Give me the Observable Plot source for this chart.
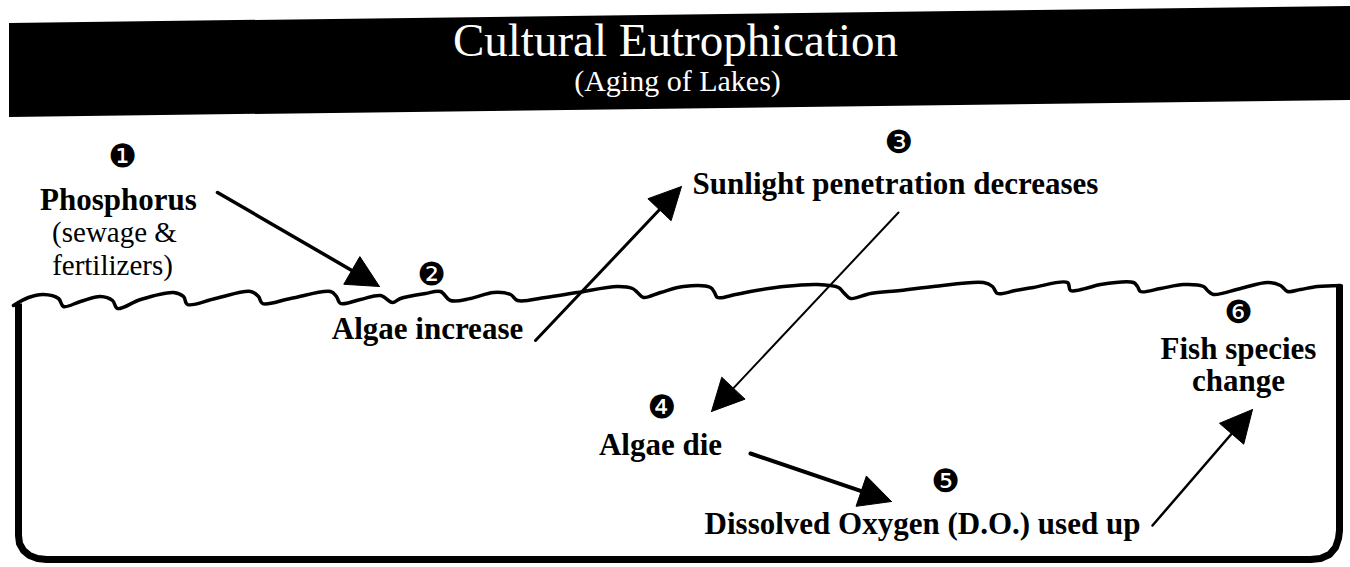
<!DOCTYPE html>
<html><head><meta charset="utf-8">
<script src="https://cdn.jsdelivr.net/npm/d3@7"></script>
<script src="https://cdn.jsdelivr.net/npm/@observablehq/plot@0.6"></script>
<style>body{margin:0;background:#fff}</style>
</head><body><div id="chart"></div>
<script>
// ---- data (coordinates in a 1350 x 567 frame) ----
const titleText = "Cultural Eutrophication";
const subtitleText = "(Aging of Lakes)";
const bannerX = [9, 1350];
const bannerTop = [23, 6];
const bannerBottom = [117, 100];

const stepNumbers = ["❶", "❷", "❸", "❹", "❺", "❻"];
const stepNumX = [122, 431, 898, 661, 945, 1238];
const stepNumY = [156, 274, 142, 407, 481, 312];

const labelText = ["Phosphorus", "(sewage &", "fertilizers)", "Algae increase",
  "Sunlight penetration decreases", "Algae die", "Dissolved Oxygen (D.O.) used up",
  "Fish species", "change"];
const labelX = [118, 114, 112, 427, 895, 660, 922, 1238, 1238];
const labelBase = [209, 241, 274, 338, 193, 454, 533, 358, 390];
const labelBold = [true, false, false, true, true, true, true, true, true];

const arrowFromX = [217, 535, 898, 750, 1152];
const arrowFromY = [192, 340, 212, 453, 525];
const arrowToX = [379, 681, 711, 891, 1252];
const arrowToY = [286, 186, 411, 501, 409];
const arrowWeight = [3.5, 3, 2, 4, 2.5];

const waveX = [13,28,43,58,63,80,100,112,117,140,173,183,187,215,250,258,262,290,330,336,340,360,380,392,400,425,440,450,470,493,510,517,545,577,617,632,637,643,660,683,710,714,717,735,750,783,817,838,843,850,870,900,933,983,992,997,1015,1033,1067,1070,1085,1100,1133,1137,1140,1160,1183,1203,1207,1213,1240,1267,1280,1287,1300,1317,1340];
const waveY = [305,297,294,298,306,301,296,300,308,299,292,296,304,298,291,296,303,298,291,296,303,299,295,302,298,293,291,300,298,292,294,300,297,292,286,288,292,297,292,286,287,292,297,294,291,286,284,287,292,298,293,290,286,282,286,293,290,287,282,290,288,284,282,286,291,288,284,286,290,294,288,282,285,291,289,286,285];

const lakeX = [18,18,19,23,29,37,46,1310,1320,1329,1335,1338,1339,1339];
const lakeY = [303,535,543,550,555,558,559,559,558,554,547,538,530,284];

// ---- build tables ----
const banner = bannerX.map((x, i) => ({x, top: bannerTop[i], bottom: bannerBottom[i]}));
const wave = waveX.map((x, i) => ({x, y: waveY[i]}));
const lake = lakeX.map((x, i) => ({x, y: lakeY[i]}));
const nums = stepNumbers.map((t, i) => ({t, x: stepNumX[i], y: stepNumY[i]}));
const labels = labelText.map((t, i) => ({t, x: labelX[i], y: labelBase[i], bold: labelBold[i]}));

const headLen = 32, headHalf = 16;
const shafts = [], heads = [];
arrowFromX.forEach((x1, i) => {
  const y1 = arrowFromY[i], x2 = arrowToX[i], y2 = arrowToY[i];
  const dx = x2 - x1, dy = y2 - y1, d = Math.hypot(dx, dy);
  const ux = dx / d, uy = dy / d, nx = -uy, ny = ux;
  const bx = x2 - ux * headLen, by = y2 - uy * headLen;
  shafts.push({x1, y1, x2: bx + ux * 4, y2: by + uy * 4, w: arrowWeight[i]});
  const tri = [[x2, y2], [bx + nx * headHalf, by + ny * headHalf], [bx - nx * headHalf, by - ny * headHalf], [x2, y2]];
  tri.forEach(([x, y]) => heads.push({id: i, x, y}));
});

const W = 1350, H = 567;
const serif = "'Liberation Serif', 'Times New Roman', serif";
const chart = Plot.plot({
  width: W, height: H, margin: 0,
  x: {domain: [0, W], range: [0, W], axis: null},
  y: {domain: [0, H], range: [0, H], axis: null},
  style: {background: "white"},
  marks: [
    Plot.areaY(banner, {x: "x", y1: "top", y2: "bottom", fill: "black"}),
    Plot.text([titleText], {x: 675, y: 55, text: d => d, fill: "white", fontSize: 47, fontFamily: serif, lineAnchor: "bottom"}),
    Plot.text([subtitleText], {x: 677, y: 90, text: d => d, fill: "white", fontSize: 30, fontFamily: serif, lineAnchor: "bottom"}),
    Plot.line(wave, {x: "x", y: "y", curve: "catmull-rom", stroke: "black", strokeWidth: 3.5, strokeLinejoin: "round", strokeLinecap: "round"}),
    Plot.line(lake, {x: "x", y: "y", stroke: "black", strokeWidth: 7, strokeLinejoin: "round", strokeLinecap: "butt"}),
    Plot.link(shafts, {x1: "x1", y1: "y1", x2: "x2", y2: "y2", stroke: "black", strokeWidth: "w", strokeLinecap: "round"}),
    Plot.line(heads, {x: "x", y: "y", z: "id", fill: "black", stroke: "black", strokeWidth: 1, strokeLinejoin: "miter"}),
    Plot.text(labels.filter(d => d.bold), {x: "x", y: "y", text: "t", fill: "black", fontSize: 31, fontWeight: "bold", fontFamily: serif, lineAnchor: "bottom"}),
    Plot.text(labels.filter(d => !d.bold), {x: "x", y: "y", text: "t", fill: "black", fontSize: 29, fontFamily: serif, lineAnchor: "bottom"}),
    Plot.text(nums, {x: "x", y: "y", text: "t", fill: "black", fontSize: 32, fontFamily: "'DejaVu Sans', sans-serif"})
  ]
});
document.getElementById("chart").append(chart);
</script>
</body></html>
